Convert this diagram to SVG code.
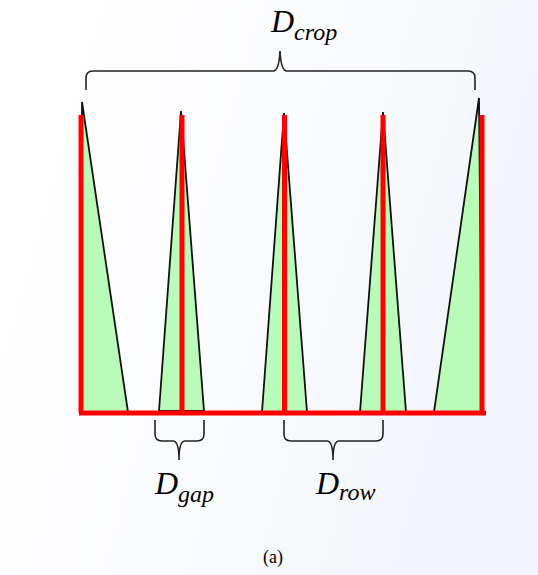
<svg xmlns="http://www.w3.org/2000/svg" width="538" height="575" viewBox="0 0 538 575">
<defs>
<linearGradient id="bg" x1="0" y1="0" x2="1" y2="0.3">
<stop offset="0" stop-color="#ffffff"/>
<stop offset="0.5" stop-color="#fbfcfe"/>
<stop offset="1" stop-color="#f2f5fa"/>
</linearGradient>
<style>
.tri{fill:#b9fbb9;stroke:#111;stroke-width:1.8;stroke-linejoin:miter}
.red{stroke:#ff0000;stroke-width:5;fill:none}
.brace{fill:none;stroke:#222;stroke-width:1.6}
.serif{font-family:'Liberation Serif','DejaVu Serif',serif;fill:#000}
</style>
</defs>
<rect width="538" height="575" fill="url(#bg)"/>
<g id="rows">
<polygon class="tri" points="82,102 128,412 82,412"/>
<polygon class="tri" points="181,111 204,411 159,411"/>
<polygon class="tri" points="284,113 307,412 262,412"/>
<polygon class="tri" points="383,112 406,412 360,412"/>
<polygon class="tri" points="479,98 482,412 434,412"/>
</g>
<g id="crop-lines">
<line class="red" x1="81" y1="115" x2="81" y2="413"/>
<line class="red" x1="182" y1="115" x2="182" y2="413"/>
<line class="red" x1="284.5" y1="115" x2="284.5" y2="413"/>
<line class="red" x1="383" y1="115" x2="383" y2="413"/>
<line class="red" x1="482" y1="115" x2="482" y2="413"/>
<line class="red" x1="79" y1="413" x2="486" y2="413"/>
</g>
<g id="braces">
<path class="brace" d="M86,90 L86,78 Q86,71 93,71 L273,71 Q279,71 280,51 Q281,71 287,71 L468,71 Q475,71 475,78 L475,90"/>
<path class="brace" d="M155,420 L155,434 Q155,441 162,441 L173,441 Q179,441 179,460 Q179,441 185,441 L197,441 Q204,441 204,434 L204,420"/>
<path class="brace" d="M284,420 L284,434 Q284,441 291,441 L327,441 Q333,441 333,460 Q333,441 339,441 L376,441 Q383,441 383,434 L383,420"/>
</g>
<g id="labels">
<text class="serif" x="271" y="32" font-size="32" font-style="italic">D<tspan font-size="24" dy="8">crop</tspan></text>
<text class="serif" x="155" y="494" font-size="32" font-style="italic">D<tspan font-size="24" dy="8">gap</tspan></text>
<text class="serif" x="316" y="494" font-size="32" font-style="italic">D<tspan font-size="24" dy="6">row</tspan></text>
<text class="serif" x="273" y="563" font-size="18" text-anchor="middle">(a)</text>
</g>
</svg>
